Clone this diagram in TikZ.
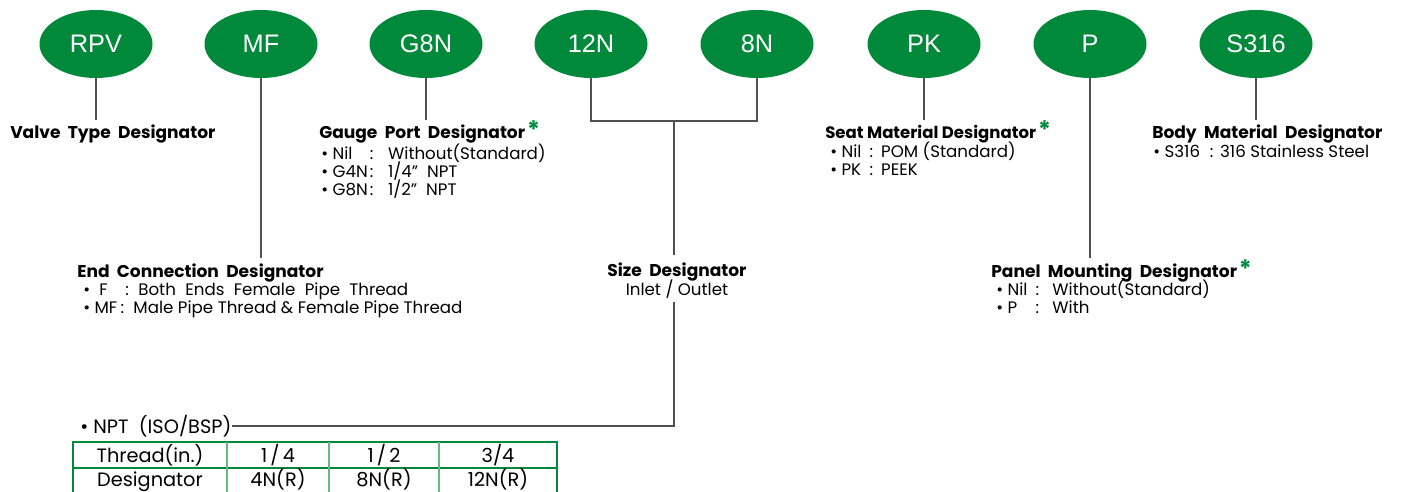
\documentclass[tikz,border=0pt]{standalone}
\usepackage{fontspec}
\setmainfont{Poppins}
\newfontfamily\tagfont{Liberation Sans}
\usetikzlibrary{shapes.geometric}
\definecolor{pgreen}{RGB}{0,137,58}
\definecolor{leadgray}{RGB}{80,80,80}
\newcommand{\keyval}[4][8pt]{\textbullet\ \makebox[#2][l]{#3}:\hspace{#1}#4}
\newcommand{\hdfont}{\bfseries\fontsize{12.8}{12.8}\selectfont\spaceskip 5.5pt\relax}
\newcommand{\widefont}{\fontsize{12.5}{12.5}\selectfont\spaceskip 7pt\relax}

\begin{document}
\begin{tikzpicture}[x=0.75pt,y=-0.75pt,
  tag/.style={ellipse,fill=pgreen,text=white,minimum width=84.75pt,minimum height=51pt,
    font=\tagfont\fontsize{19}{19}\selectfont},
  hd/.style={anchor=base west,font=\hdfont},
  item/.style={anchor=base west,font=\fontsize{12.5}{12.5}\selectfont},
  star/.style={anchor=base west,text=pgreen,font=\bfseries\fontsize{18}{18}\selectfont},
  cell/.style={anchor=base,font=\fontsize{14.5}{14.5}\selectfont},
  lead/.style={draw=leadgray,line width=1pt},
  grid/.style={draw=pgreen,line width=1.3pt}]
\tikzstyle{every node}+=[inner sep=0pt]
\useasboundingbox (0,0) rectangle (1413,492);
% code ellipses
\node [tag] (rpv) at (96,44) {RPV};
\node [tag] (mf) at (261,44) {MF};
\node [tag] (g8n) at (426,44) {G8N};
\node [tag] (n12) at (591,44) {12N};
\node [tag] (n8) at (757,44) {8N};
\node [tag] (pk) at (924,44) {PK};
\node [tag] (p) at (1090,44) {P};
\node [tag] (s316) at (1256,44) {S316};
% designator texts
\node [hd] (vtd) at (10,138) {Valve Type Designator};
\node [hd] (gpd) at (319,138) {Gauge Port Designator};
\node [star] at ([xshift=1pt]gpd.base east) {*};
\node [item] (gp1) at (321,159) {\keyval[11pt]{28pt}{Nil}{Without(Standard)}};
\node [item] (gp2) at (321,177) {\keyval[11pt]{28pt}{G4N}{1/4"\ \ NPT}};
\node [item] (gp3) at (321,195) {\keyval[11pt]{28pt}{G8N}{1/2"\ \ NPT}};
\node [hd,font=\bfseries\fontsize{12.4}{12.4}\selectfont] (smd) at (825,138) {Seat Material Designator};
\node [star] at ([xshift=1pt]smd.base east) {*};
\node [item] (sm1) at (830,157) {\keyval[6pt]{21pt}{Nil}{POM (Standard)}};
\node [item] (sm2) at (830,175) {\keyval[6pt]{21pt}{PK}{PEEK}};
\node [hd] (bmd) at (1152,138) {Body Material Designator};
\node [item] (bm1) at (1153,157) {\keyval[5pt]{34pt}{S316}{316 Stainless Steel}};
\node [hd] (ecd) at (77,277) {End Connection Designator};
\node [item,font=\widefont] (ec1) at (83,295) {\keyval[7pt]{19.5pt}{F}{Both Ends Female Pipe Thread}};
\node [item] (ec2) at (83,313) {\keyval[7pt]{19.5pt}{MF}{Male Pipe Thread \& Female Pipe Thread}};
\node [hd,anchor=base] (szd) at (677,276) {Size Designator};
\node [item,anchor=base] (io) at (677,295) {Inlet / Outlet};
\node [hd] (pmd) at (991,277) {Panel Mounting Designator};
\node [star] at ([xshift=1pt]pmd.base east) {*};
\node [item] (pm1) at (996,295) {\keyval[10pt]{21pt}{Nil}{Without(Standard)}};
\node [item] (pm2) at (996,313) {\keyval[10pt]{21pt}{P}{With}};
\node [item,font=\fontsize{14.5}{14.5}\selectfont] (npt) at (80,433) {\textbullet\ NPT\ \ (ISO/BSP)};
% leader lines
\coordinate (rpvend) at (96,120);
\coordinate (mfend) at (261,258);
\coordinate (g8nend) at (426,120);
\coordinate (jl) at (591,121);
\coordinate (jm) at (674,121);
\coordinate (jr) at (757,121);
\coordinate (szt) at (674,255);
\coordinate (szb) at (674,302);
\coordinate (nptc) at (674,426);
\coordinate (pkend) at (924,120);
\coordinate (pend) at (1090,258);
\coordinate (s316end) at (1256,120);
\draw [lead] (rpv) -- (rpvend);
\draw [lead] (mf) -- (mfend);
\draw [lead] (g8n) -- (g8nend);
\draw [lead] (n12) -- (jl) -- (jr) -- (n8);
\draw [lead] (jm) -- (szt);
\draw [lead] (szb) -- (nptc) -- (nptc -| npt.east);
\draw [lead] (pk) -- (pkend);
\draw [lead] (p) -- (pend);
\draw [lead] (s316) -- (s316end);
% size table
\draw [grid] (73,494) -- (73,442) -- (557,442) -- (557,494);
\draw [grid] (73,468) -- (557,468);
\draw [grid,draw=pgreen!60] (227,442) -- (227,494) (329,442) -- (329,494) (439,442) -- (439,494);
\node [cell] (t11) at (150,462) {Thread(in.)};
\node [cell] (t12) at (278,462) {1\,/\,4};
\node [cell] (t13) at (384,462) {1\,/\,2};
\node [cell] (t14) at (498,462) {3/4};
\node [cell] (t21) at (150,486) {Designator};
\node [cell] (t22) at (278,486) {4N(R)};
\node [cell] (t23) at (384,486) {8N(R)};
\node [cell] (t24) at (498,486) {12N(R)};
\end{tikzpicture}
\end{document}
